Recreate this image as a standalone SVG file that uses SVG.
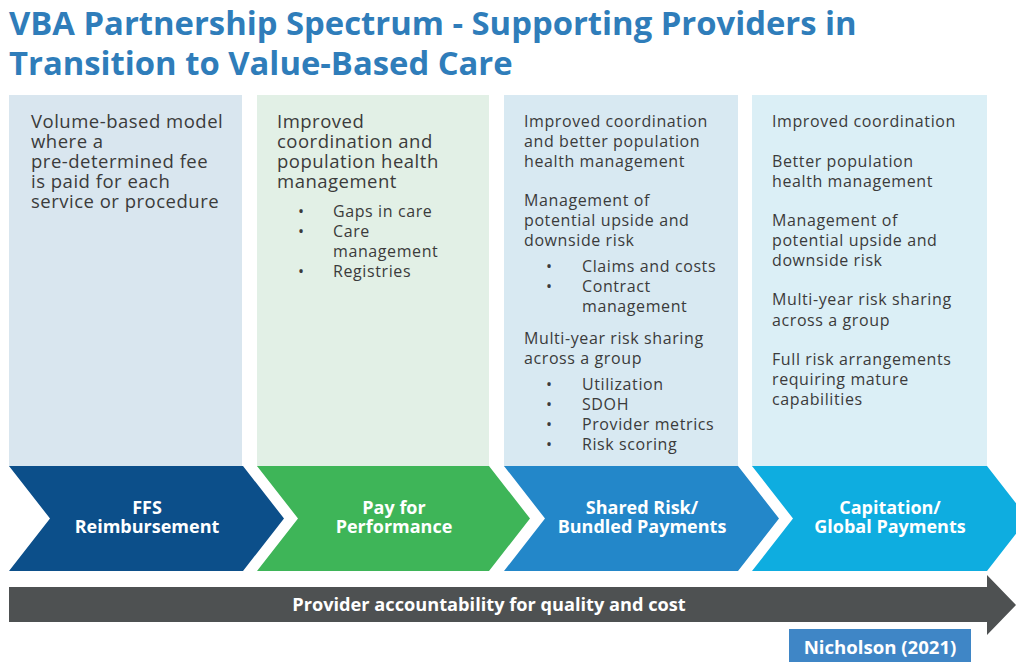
<svg xmlns="http://www.w3.org/2000/svg" width="1016" height="662" viewBox="0 0 1016 662">
  <style>
    .title { font-family: "Open Sans", "Noto Sans", sans-serif; font-weight: 700; font-size: 32.8px; fill: #2f7dba; }
    .body { font-family: "Open Sans", "Noto Sans", sans-serif; font-size: 16px; letter-spacing: 0.6px; fill: #3b3b3b; }
    .big { font-size: 18.5px; letter-spacing: 0.5px; }
    .stage { font-family: "Open Sans", "Noto Sans", sans-serif; font-weight: 700; font-size: 18px; fill: #ffffff; text-anchor: middle; }
    .bar-label { font-family: "Open Sans", "Noto Sans", sans-serif; font-weight: 700; font-size: 18.2px; fill: #ffffff; text-anchor: middle; }
  </style>
  <rect width="1016" height="662" fill="#ffffff"/>

  <!-- Heading -->
  <g id="title">
    <text class="title" x="9" y="35">VBA Partnership Spectrum - Supporting Providers in</text>
    <text class="title" x="9" y="75">Transition to Value-Based Care</text>
  </g>

  <!-- Stage 1: FFS -->
  <g id="stage-ffs">
    <rect x="9" y="95" width="233" height="372" fill="#d9e6ef"/>
    <text class="body big">
      <tspan x="31" y="128">Volume-based model</tspan>
      <tspan x="31" y="148">where a</tspan>
      <tspan x="31" y="168">pre-determined fee</tspan>
      <tspan x="31" y="188">is paid for each</tspan>
      <tspan x="31" y="208">service or procedure</tspan>
    </text>
    <polygon points="9,466 243,466 284,518.5 243,571 9,571 50,518.5" fill="#0c4f8a"/>
    <text class="stage"><tspan x="147" y="514">FFS</tspan><tspan x="147" y="533">Reimbursement</tspan></text>
  </g>

  <!-- Stage 2: Pay for Performance -->
  <g id="stage-p4p">
    <rect x="257" y="95" width="232" height="372" fill="#e2f0e6"/>
    <text class="body big">
      <tspan x="277" y="128">Improved</tspan>
      <tspan x="277" y="148">coordination and</tspan>
      <tspan x="277" y="168">population health</tspan>
      <tspan x="277" y="188">management</tspan>
    </text>
    <text class="body">
      <tspan x="298" y="217">•</tspan><tspan x="333" y="217">Gaps in care</tspan>
      <tspan x="298" y="237">•</tspan><tspan x="333" y="237">Care</tspan>
      <tspan x="333" y="257">management</tspan>
      <tspan x="298" y="277">•</tspan><tspan x="333" y="277">Registries</tspan>
    </text>
    <polygon points="257,466 489,466 530,518.5 489,571 257,571 298,518.5" fill="#3eb558"/>
    <text class="stage"><tspan x="394" y="514">Pay for</tspan><tspan x="394" y="533">Performance</tspan></text>
  </g>

  <!-- Stage 3: Shared Risk / Bundled Payments -->
  <g id="stage-shared-risk">
    <rect x="504" y="95" width="234" height="372" fill="#d8e9f2"/>
    <text class="body">
      <tspan x="524" y="127">Improved coordination</tspan>
      <tspan x="524" y="147">and better population</tspan>
      <tspan x="524" y="167">health management</tspan>
      <tspan x="524" y="206">Management of</tspan>
      <tspan x="524" y="226">potential upside and</tspan>
      <tspan x="524" y="246">downside risk</tspan>
      <tspan x="546" y="272">•</tspan><tspan x="582" y="272">Claims and costs</tspan>
      <tspan x="546" y="292">•</tspan><tspan x="582" y="292">Contract</tspan>
      <tspan x="582" y="312">management</tspan>
      <tspan x="524" y="344">Multi-year risk sharing</tspan>
      <tspan x="524" y="364">across a group</tspan>
      <tspan x="546" y="390">•</tspan><tspan x="582" y="390">Utilization</tspan>
      <tspan x="546" y="410">•</tspan><tspan x="582" y="410">SDOH</tspan>
      <tspan x="546" y="430">•</tspan><tspan x="582" y="430">Provider metrics</tspan>
      <tspan x="546" y="450">•</tspan><tspan x="582" y="450">Risk scoring</tspan>
    </text>
    <polygon points="504,466 738,466 779,518.5 738,571 504,571 545,518.5" fill="#2387c9"/>
    <text class="stage"><tspan x="642" y="514">Shared Risk/</tspan><tspan x="642" y="533">Bundled Payments</tspan></text>
  </g>

  <!-- Stage 4: Capitation / Global Payments -->
  <g id="stage-capitation">
    <rect x="752" y="95" width="235" height="372" fill="#dbeff6"/>
    <text class="body">
      <tspan x="772" y="127">Improved coordination</tspan>
      <tspan x="772" y="167">Better population</tspan>
      <tspan x="772" y="187">health management</tspan>
      <tspan x="772" y="226">Management of</tspan>
      <tspan x="772" y="246">potential upside and</tspan>
      <tspan x="772" y="266">downside risk</tspan>
      <tspan x="772" y="305">Multi-year risk sharing</tspan>
      <tspan x="772" y="326">across a group</tspan>
      <tspan x="772" y="365">Full risk arrangements</tspan>
      <tspan x="772" y="385">requiring mature</tspan>
      <tspan x="772" y="405">capabilities</tspan>
    </text>
    <polygon points="752,466 987,466 1028,518.5 987,571 752,571 793,518.5" fill="#0eade0"/>
    <text class="stage"><tspan x="890" y="514">Capitation/</tspan><tspan x="890" y="533">Global Payments</tspan></text>
  </g>

  <!-- Accountability arrow along the bottom -->
  <g id="connectors">
    <polygon points="9,587 987,587 987,575 1016,605 987,635 987,622 9,622" fill="#4e5152"/>
    <text class="bar-label" x="489" y="611">Provider accountability for quality and cost</text>
  </g>

  <!-- Citation tag -->
  <g id="citation">
    <rect x="789" y="629" width="182" height="33" fill="#3f86c6"/>
    <text class="bar-label" x="880" y="654" style="font-size:18.6px">Nicholson (2021)</text>
  </g>
</svg>
